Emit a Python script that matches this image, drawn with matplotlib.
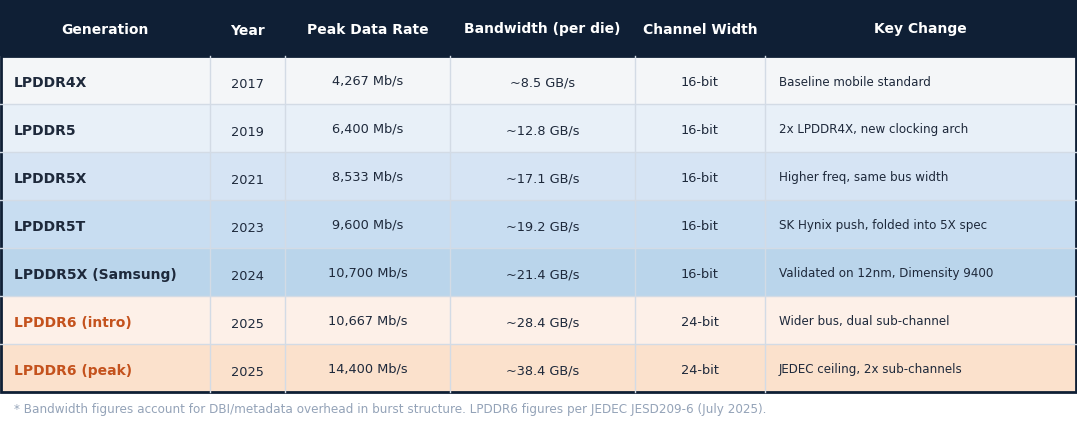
import matplotlib
matplotlib.use("Agg")
import matplotlib.pyplot as plt
from matplotlib.patches import Rectangle

plt.rcParams['font.family'] = ['DejaVu Sans']

headers = ["Generation", "Year", "Peak Data Rate", "Bandwidth (per die)", "Channel Width", "Key Change"]
generations = ["LPDDR4X", "LPDDR5", "LPDDR5X", "LPDDR5T", "LPDDR5X (Samsung)", "LPDDR6 (intro)", "LPDDR6 (peak)"]
years = ["2017", "2019", "2021", "2023", "2024", "2025", "2025"]
data_rates = ["4,267 Mb/s", "6,400 Mb/s", "8,533 Mb/s", "9,600 Mb/s", "10,700 Mb/s", "10,667 Mb/s", "14,400 Mb/s"]
bandwidths = ["~8.5 GB/s", "~12.8 GB/s", "~17.1 GB/s", "~19.2 GB/s", "~21.4 GB/s", "~28.4 GB/s", "~38.4 GB/s"]
channel_widths = ["16-bit", "16-bit", "16-bit", "16-bit", "16-bit", "24-bit", "24-bit"]
key_changes = ["Baseline mobile standard", "2x LPDDR4X, new clocking arch", "Higher freq, same bus width",
               "SK Hynix push, folded into 5X spec", "Validated on 12nm, Dimensity 9400",
               "Wider bus, dual sub-channel", "JEDEC ceiling, 2x sub-channels"]
footnote = "* Bandwidth figures account for DBI/metadata overhead in burst structure. LPDDR6 figures per JEDEC JESD209-6 (July 2025)."

row_colors = ["#f4f6f8", "#e8f0f8", "#d6e4f4", "#c8ddf1", "#bad5eb", "#fdf0e8", "#fbe1cc"]
gen_colors = ["#1e293b"] * 5 + ["#c4521d"] * 2

W, H = 1077, 424
fig = plt.figure(figsize=(W / 100, H / 100), dpi=100)
ax = fig.add_axes([0, 0, 1, 1])
ax.set_xlim(0, W)
ax.set_ylim(H, 0)
ax.axis("off")

col_edges = [0, 210, 285, 450, 635, 765, 1076]
header_top, header_bot = 0, 56
row_h = 48
navy = "#0f1f35"
grid = "#d3dbe5"
text_dark = "#1e293b"

ax.add_patch(Rectangle((0, header_top), W, header_bot - header_top, facecolor=navy, edgecolor="none"))
h_off = [0, 1, 0, -1, 0, -1]
for j, h in enumerate(headers):
    cx = (col_edges[j] + col_edges[j + 1]) / 2
    ax.text(cx, 30 + h_off[j], h, ha="center", va="center", color="white", fontsize=10, fontweight="bold")

n = len(generations)
for i in range(n):
    y0 = header_bot + i * row_h
    ax.add_patch(Rectangle((0, y0), W, row_h, facecolor=row_colors[i], edgecolor="none"))
    if i > 0:
        ax.plot([0, W], [y0, y0], color=grid, lw=1)
    cy = y0 + row_h / 2
    ax.text(14, cy + 3, generations[i], ha="left", va="center", color=gen_colors[i], fontsize=10, fontweight="bold")
    vals = [years[i], data_rates[i], bandwidths[i], channel_widths[i]]
    offs = [4, 1, 3, 3]
    for j, v in enumerate(vals):
        cx = (col_edges[j + 1] + col_edges[j + 2]) / 2
        ax.text(cx, cy + offs[j], v, ha="center", va="center", color=text_dark, fontsize=9.3)
    ax.text(779, cy + 2, key_changes[i], ha="left", va="center", color=text_dark, fontsize=8.6)

table_bot = header_bot + n * row_h
for x in col_edges[1:-1]:
    ax.plot([x, x], [header_bot, table_bot], color=grid, lw=1)

ax.add_patch(Rectangle((1, header_bot), W - 2, table_bot - header_bot, facecolor="none", edgecolor=navy, lw=2))

ax.text(14, 410, footnote, ha="left", va="center", color="#94a3b8", fontsize=8.65)

fig.savefig("out.png", dpi=100)
